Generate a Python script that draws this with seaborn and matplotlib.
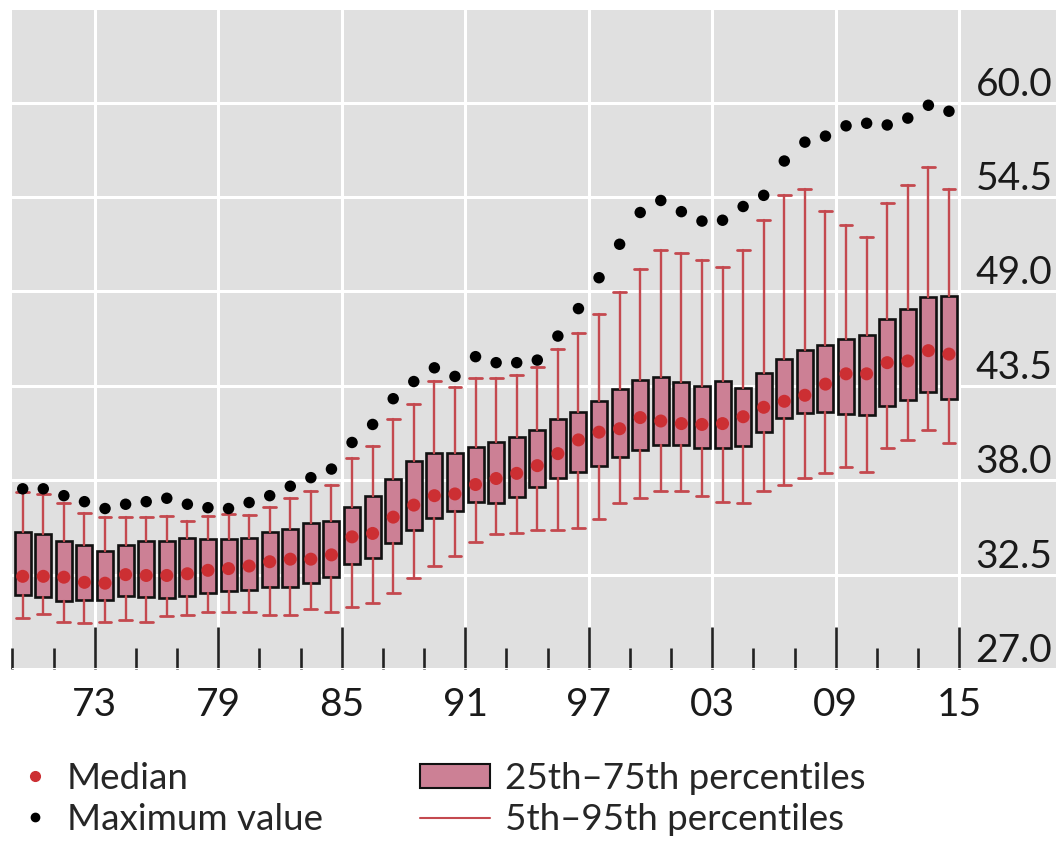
import numpy as np
import matplotlib
matplotlib.use("Agg")
import matplotlib.pyplot as plt
from matplotlib.lines import Line2D
from matplotlib.patches import Patch
import seaborn as sns

# Distribution per year, 1969-2014
years = np.arange(1969, 2015)
max_val = [37.5, 37.5, 37.1, 36.75, 36.35, 36.6, 36.75, 36.95, 36.6, 36.4,
           36.35, 36.7, 37.1, 37.65, 38.15, 38.65, 40.2, 41.25, 42.75, 43.75,
           44.55, 44.05, 45.2, 44.85, 44.85, 45.0, 46.4, 48.0, 49.8, 51.75,
           53.6, 54.3, 53.65, 53.1, 53.15, 53.95, 54.6, 56.6, 57.7, 58.05,
           58.65, 58.8, 58.7, 59.1, 59.85, 59.5]
p95 = [37.3, 37.2, 36.7, 36.1, 35.85, 35.85, 35.85, 35.9, 35.6, 35.9,
       36.05, 35.95, 36.45, 36.95, 37.35, 37.75, 39.3, 40.0, 41.55, 42.45,
       43.8, 43.45, 43.95, 43.95, 44.15, 44.6, 45.65, 46.6, 47.7, 48.95,
       50.3, 51.4, 51.25, 50.85, 50.45, 51.4, 53.15, 54.6, 54.95, 53.7,
       52.9, 52.15, 54.15, 55.2, 56.25, 54.95]
p75 = [35.0, 34.85, 34.45, 34.2, 33.9, 34.2, 34.45, 34.45, 34.65, 34.55,
       34.55, 34.65, 35.0, 35.15, 35.5, 35.65, 36.45, 37.1, 38.05, 39.1,
       39.6, 39.6, 39.95, 40.2, 40.5, 40.95, 41.55, 42.0, 42.6, 43.3,
       43.85, 44.0, 43.7, 43.5, 43.8, 43.4, 44.25, 45.05, 45.6, 45.9,
       46.25, 46.45, 47.4, 47.95, 48.65, 48.75]
median = [32.4, 32.4, 32.35, 32.05, 32.0, 32.5, 32.45, 32.45, 32.55, 32.75,
          32.85, 33.0, 33.25, 33.4, 33.4, 33.65, 34.7, 34.9, 35.85, 36.55,
          37.1, 37.2, 37.75, 38.1, 38.4, 38.85, 39.55, 40.35, 40.8, 41.0,
          41.65, 41.45, 41.3, 41.25, 41.3, 41.7, 42.25, 42.6, 42.95, 43.6,
          44.2, 44.2, 44.85, 44.95, 45.55, 45.35]
p25 = [31.3, 31.2, 30.95, 31.0, 31.0, 31.25, 31.2, 31.15, 31.25, 31.4,
       31.55, 31.6, 31.75, 31.8, 32.0, 32.35, 33.1, 33.45, 34.35, 35.1,
       35.8, 36.2, 36.75, 36.65, 37.0, 37.6, 38.15, 38.5, 38.85, 39.35,
       39.75, 40.05, 40.05, 39.85, 39.85, 40.0, 40.8, 41.6, 41.9, 41.95,
       41.85, 41.8, 42.3, 42.7, 43.15, 42.75]
p5 = [30.0, 30.2, 29.75, 29.7, 29.75, 29.85, 29.75, 30.1, 30.15, 30.3,
      30.35, 30.35, 30.15, 30.15, 30.5, 30.3, 30.6, 30.85, 31.45, 32.3,
      33.0, 33.6, 34.4, 34.85, 34.95, 35.1, 35.1, 35.2, 35.75, 36.65,
      36.95, 37.4, 37.4, 37.1, 36.75, 36.65, 37.35, 37.7, 38.15, 38.45,
      38.75, 38.5, 39.85, 40.35, 40.9, 40.15]

major_years = [1973, 1979, 1985, 1991, 1997, 2003, 2009, 2015]
major_labels = ["73", "79", "85", "91", "97", "03", "09", "15"]
minor_years = [1969, 1971, 1975, 1977, 1981, 1983, 1987, 1989, 1993, 1995,
               1999, 2001, 2005, 2007, 2011, 2013]
yticks = [27.0, 32.5, 38.0, 43.5, 49.0, 54.5, 60.0]

box_color = "#cc8095"
whisk_color = "#c4494f"
med_color = "#cc2f33"
bg = "#e0e0e0"

sns.set_theme(style="darkgrid")
plt.rcParams["font.family"] = ["Lato", "DejaVu Sans"]

fig = plt.figure(figsize=(10.56, 8.48), dpi=100)
ax = fig.add_axes([12 / 1056, 1 - 669 / 848, 1 - 12 / 1056, (669 - 10) / 848])
ax.set_facecolor(bg)

pos = years + 0.5
stats = [dict(med=m, q1=a, q3=b, whislo=lo, whishi=hi, fliers=[])
         for m, a, b, lo, hi in zip(median, p25, p75, p5, p95)]
ax.bxp(stats, positions=pos, widths=0.78, capwidths=0.62, showfliers=False,
       patch_artist=True, manage_ticks=False,
       boxprops=dict(facecolor=box_color, edgecolor="#111111", linewidth=1.9),
       whiskerprops=dict(color=whisk_color, linewidth=1.7),
       capprops=dict(color=whisk_color, linewidth=2.0),
       medianprops=dict(linewidth=0))

sns.scatterplot(x=pos, y=median, color=med_color, s=88, edgecolor="none",
                ax=ax, zorder=4)
sns.scatterplot(x=pos, y=max_val, color="black", s=68, edgecolor="none",
                ax=ax, zorder=4)

ax.set_xlim(1968.98, 2019.7)
ax.set_ylim(27.0, 65.4)

ax.set_xticks(major_years)
ax.set_xticklabels(major_labels)
ax.set_xticks(minor_years, minor=True)
ax.tick_params(axis="x", which="both", direction="in", bottom=True,
               color="#222222", width=1.9, labelsize=28, pad=13,
               labelcolor="#1a1a1a")
ax.tick_params(axis="x", which="major", length=30)
ax.tick_params(axis="x", which="minor", length=15)

ax.set_yticks(yticks)
ax.set_yticklabels([f"{v:.1f}" for v in yticks])
ax.yaxis.tick_right()
ax.tick_params(axis="y", length=0, pad=-58, labelsize=28, labelcolor="#1a1a1a")
for lbl in ax.get_yticklabels():
    lbl.set_horizontalalignment("left")
    lbl.set_verticalalignment("bottom")

ax.grid(True, which="major", color="white", linewidth=2.2)
ax.grid(False, which="minor")
for s in ax.spines.values():
    s.set_visible(False)
ax.set_xlabel("")
ax.set_ylabel("")

h1 = [Line2D([], [], marker="o", linestyle="none", color=med_color, markersize=7, label="Median"),
      Line2D([], [], marker="o", linestyle="none", color="black", markersize=6, label="Maximum value")]
h2 = [Patch(facecolor=box_color, edgecolor="#111111", linewidth=1.5, label="25th–75th percentiles"),
      Line2D([], [], color=whisk_color, linewidth=1.5, label="5th–95th percentiles")]
fig.legend(handles=h1, loc="upper left", bbox_to_anchor=(19 / 1056, 1 - 762 / 848),
           frameon=False, borderpad=0, borderaxespad=0, handlelength=0.85,
           handletextpad=0.45, labelspacing=0.22, fontsize=26.5)
fig.legend(handles=h2, loc="upper left", bbox_to_anchor=(420 / 1056, 1 - 762 / 848),
           frameon=False, borderpad=0, borderaxespad=0, handlelength=1.9,
           handleheight=0.6, handletextpad=0.4, labelspacing=0.22, fontsize=26.5)

fig.savefig("out.png", dpi=100)
